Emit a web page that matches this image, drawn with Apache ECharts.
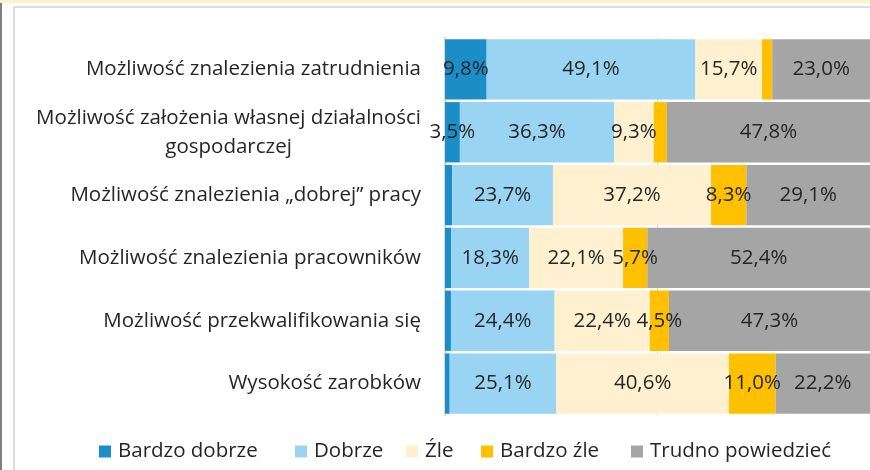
<!DOCTYPE html>
<html lang="pl">
<head>
    <meta charset="UTF-8">
    <title>Ocena możliwości</title>
    <script src="https://cdn.jsdelivr.net/npm/echarts@6/dist/echarts.min.js"></script>
    <style>
        html, body { margin: 0; padding: 0; background: #fff; }
        #main { width: 870px; height: 470px; }
    </style>
</head>
<body>
<div id="main"></div>
<script>
    // kategorie od gory do dolu
    var categories = [
        'Możliwość znalezienia zatrudnienia',
        'Możliwość założenia własnej działalności\ngospodarczej',
        'Możliwość znalezienia „dobrej” pracy',
        'Możliwość znalezienia pracowników',
        'Możliwość przekwalifikowania się',
        'Wysokość zarobków'
    ];
    var bardzoDobrze = [9.8, 3.5, 1.7, 1.5, 1.4, 1.1];
    var dobrze = [49.1, 36.3, 23.7, 18.3, 24.4, 25.1];
    var zle = [15.7, 9.3, 37.2, 22.1, 22.4, 40.6];
    var bardzoZle = [2.4, 3.1, 8.3, 5.7, 4.5, 11.0];
    var trudno = [23.0, 47.8, 29.1, 52.4, 47.3, 22.2];

    var seriesNames = ['Bardzo dobrze', 'Dobrze', 'Źle', 'Bardzo źle', 'Trudno powiedzieć'];
    var seriesData = [bardzoDobrze, dobrze, zle, bardzoZle, trudno];
    var colors = ['#1b8ec8', '#99d4f2', '#fff1cf', '#ffc000', '#a5a5a5'];
    // polozenie (x) kolejnych pozycji legendy
    var legendLeft = [99, 295, 406, 481, 631];

    var font = 'Open Sans';

    var chartDom = document.getElementById('main');
    var myChart = echarts.init(chartDom);

    var series = seriesNames.map(function (name, i) {
        return {
            name: name,
            type: 'bar',
            stack: 'all',
            barCategoryGap: '4%',
            itemStyle: { color: colors[i] },
            label: {
                show: true,
                position: 'inside',
                color: '#262626',
                fontFamily: font,
                fontSize: 20.5,
                formatter: function (p) {
                    if (p.value < 3.2) return '';
                    return p.value.toFixed(1).replace('.', ',') + '%';
                }
            },
            // odwrocona kolejnosc, zeby pierwsza kategoria byla na gorze
            data: seriesData[i].slice().reverse()
        };
    });

    var legends = seriesNames.map(function (name, i) {
        return {
            left: legendLeft[i],
            top: 441,
            padding: 0,
            itemWidth: 12,
            itemHeight: 12,
            itemGap: 0,
            icon: 'rect',
            textStyle: { fontFamily: font, fontSize: 20.5, color: '#262626', padding: [0, 0, 0, 2] },
            data: [name]
        };
    });

    var option = {
        animation: false,
        color: colors,
        graphic: [
            { type: 'rect', shape: { x: 0, y: 0, width: 870, height: 3 }, style: { fill: '#fff2cc' } },
            { type: 'rect', shape: { x: 0, y: 3, width: 2, height: 467 }, style: { fill: '#7f7f7f' } },
            { type: 'rect', shape: { x: 13, y: 6, width: 2, height: 464 }, style: { fill: '#dcdcdc' } },
            { type: 'rect', shape: { x: 13, y: 6, width: 857, height: 2 }, style: { fill: '#dcdcdc' } }
        ],
        legend: legends,
        grid: {
            left: 445,
            right: 0,
            top: 38,
            bottom: 55,
            containLabel: false
        },
        xAxis: {
            type: 'value',
            min: 0,
            max: 100,
            interval: 50,
            axisLabel: { show: false },
            axisLine: { show: false },
            axisTick: { show: false },
            splitLine: { lineStyle: { color: '#d9d9d9', width: 1 } }
        },
        yAxis: {
            type: 'category',
            data: categories.slice().reverse(),
            axisTick: { show: false },
            axisLine: { lineStyle: { color: '#d9d9d9', width: 2 } },
            axisLabel: {
                margin: 24,
                formatter: function (v) {
                    var parts = v.split('\n');
                    if (parts.length === 1) return '{a|' + v + '}';
                    return '{a|' + parts[0] + '}\n{c|' + parts[1] + '}';
                },
                rich: {
                    a: { fontFamily: font, fontSize: 20.5, color: '#262626', lineHeight: 29, align: 'right' },
                    c: { fontFamily: font, fontSize: 20.5, color: '#262626', lineHeight: 29, align: 'center' }
                }
            }
        },
        series: series
    };
    option && myChart.setOption(option);
</script>
</body>
</html>
